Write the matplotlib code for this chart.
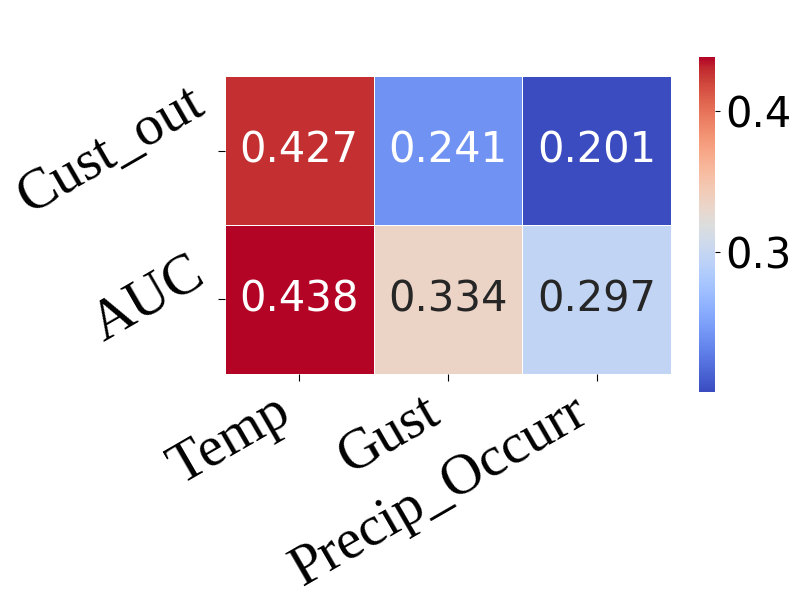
import matplotlib
matplotlib.use("Agg")
import matplotlib.pyplot as plt
import seaborn as sns
import numpy as np
import pandas as pd

rows = ["Cust_out", "AUC"]
cols = ["Temp", "Gust", "Precip_Occurr"]
cust_out = [0.427, 0.241, 0.201]
auc = [0.438, 0.334, 0.297]

df = pd.DataFrame([cust_out, auc], index=rows, columns=cols)

fig = plt.figure(figsize=(8, 6), dpi=100)
ax = fig.add_axes([0.281, 0.377, 0.558, 0.496])
cax = fig.add_axes([0.874, 0.347, 0.020, 0.558])
sns.heatmap(df, ax=ax, cbar_ax=cax, cmap="coolwarm", annot=True, fmt=".3f",
            linewidths=0.5, linecolor="white",
            annot_kws={"fontsize": 30, "family": "DejaVu Sans"})
ax.set_xticklabels(cols, rotation=30, ha="right",
                   fontsize=41, family="Liberation Serif")
ax.set_yticklabels(rows, rotation=30, ha="right", va="center",
                   fontsize=41, family="Liberation Serif")
ax.tick_params(axis="both", length=5)
cax.tick_params(labelsize=30)
cax.set_yticks([0.3, 0.4])
cax.set_yticklabels(["0.3", "0.4"])
fig.savefig("out.png", dpi=100)
